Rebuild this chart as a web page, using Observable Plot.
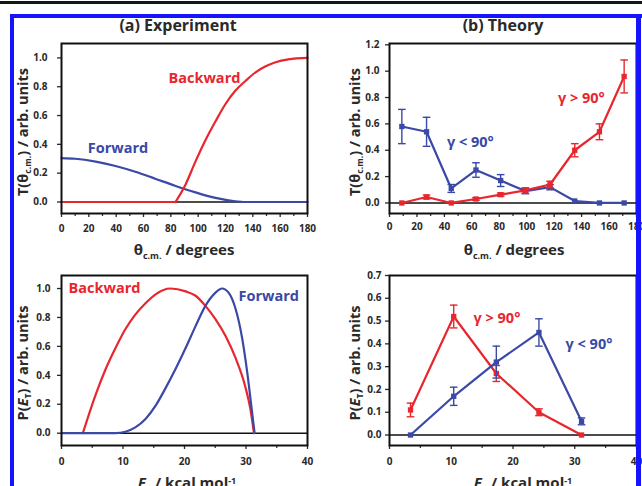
<!DOCTYPE html>
<html><head><meta charset="utf-8">
<script src="https://cdn.jsdelivr.net/npm/d3@7"></script>
<script src="https://cdn.jsdelivr.net/npm/@observablehq/plot@0.6"></script>
<style>
html,body{margin:0;padding:0;width:642px;height:486px;overflow:hidden;background:#fff;}
#root{position:relative;width:642px;height:486px;overflow:hidden;font-family:"Open Sans",sans-serif;font-weight:bold;color:#2a2a2a;}
.t{position:absolute;white-space:nowrap;font-weight:bold;line-height:1;transform:translate(-50%,-50%);}
.r{transform:translate(-50%,-50%) rotate(-90deg);}
.sb{font-size:0.6em;position:relative;top:0.4em;}
.sp{font-size:0.6em;position:relative;top:-0.5em;}
.deco{position:absolute;z-index:10;}
</style></head>
<body><div id="root"></div>
<script>
// ---------- data ----------
const red = "#e8262e", blue = "#3a48a6";

// (a) Experiment: T(theta)
const expForwardTheta = [0, 10, 25, 39.5, 54, 69, 83, 98, 112.7, 127, 134.6, 180];
const expForwardT     = [0.305, 0.30, 0.28, 0.25, 0.21, 0.16, 0.113, 0.067, 0.028, 0.005, 0, 0];
const expBackwardFlatTheta = [0, 83.4];
const expBackwardFlatT     = [0, 0];
const expBackwardTheta = [83.4, 90.7, 98, 105.4, 112.7, 120, 127, 134.6, 142, 149, 156.6, 166, 180];
const expBackwardT     = [0, 0.12, 0.28, 0.43, 0.56, 0.68, 0.77, 0.84, 0.90, 0.94, 0.97, 0.99, 1.0];

// (b) Theory: T(theta)
const thetaBins   = [9, 27, 45, 63, 81, 99, 117, 135, 153, 171];
const thLess90    = [0.58, 0.54, 0.11, 0.25, 0.17, 0.09, 0.12, 0.015, 0, 0];
const thLess90Err = [0.13, 0.11, 0.03, 0.055, 0.045, 0.02, 0.02, 0, 0, 0];
const thMore90    = [0, 0.045, 0, 0.03, 0.063, 0.095, 0.14, 0.40, 0.54, 0.96];
const thMore90Err = [0, 0.015, 0, 0.01, 0.012, 0.02, 0.025, 0.05, 0.06, 0.125];

// (a) Experiment: P(ET)
const expBackE = [3.47, 5.5, 7.15, 8.8, 10.4, 12.0, 13.7, 15.3, 17.7, 20.2, 21.8, 23.4, 25.0, 26.7, 28.3, 29.9, 30.7, 31.3];
const expBackP = [0, 0.26, 0.44, 0.59, 0.72, 0.82, 0.90, 0.96, 1.0, 0.98, 0.95, 0.88, 0.79, 0.67, 0.52, 0.32, 0.17, 0];
const expFwdE  = [0, 8.8, 10.4, 12.0, 13.7, 15.3, 16.9, 18.5, 20.2, 21.8, 23.4, 25.0, 26.1, 27.2, 28.3, 29.4, 30.2, 31.0, 31.4];
const expFwdP  = [0, 0, 0.01, 0.04, 0.10, 0.19, 0.31, 0.44, 0.59, 0.74, 0.88, 0.97, 1.0, 0.97, 0.86, 0.65, 0.42, 0.14, 0];

// (b) Theory: P(ET)
const eBins      = [3.4, 10.4, 17.3, 24.2, 31.1];
const pMore90    = [0.11, 0.52, 0.27, 0.10, 0];
const pMore90Err = [0.03, 0.05, 0.035, 0.015, 0];
const pLess90    = [0, 0.17, 0.32, 0.45, 0.06];
const pLess90Err = [0, 0.04, 0.07, 0.06, 0.015];

// tick values
const thetaMajor = [0, 20, 40, 60, 80, 100, 120, 140, 160, 180];
const thetaMinor = [10, 30, 50, 70, 90, 110, 130, 150, 170];
const eMajor = [0, 10, 20, 30, 40];
const eMinor = [5, 15, 25, 35];
const yTicksA = [0, 0.2, 0.4, 0.6, 0.8, 1.0];
const yTicksB = [0, 0.2, 0.4, 0.6, 0.8, 1.0, 1.2];
const yTicksD = [0, 0.1, 0.2, 0.3, 0.4, 0.5, 0.6, 0.7];

// annotation labels (data coordinates)
const labelsA = [{x: 104.6, y: 0.86, text: "Backward", c: red}, {x: 41.3, y: 0.373, text: "Forward", c: blue}];
const labelsB = [{x: 139.8, y: 0.795, text: "γ > 90°", c: red}, {x: 58.9, y: 0.46, text: "γ < 90°", c: blue}];
const labelsC = [{x: 7.0, y: 1.0, text: "Backward", c: red}, {x: 33.7, y: 0.947, text: "Forward", c: blue}];
const labelsD = [{x: 17.4, y: 0.51, text: "γ > 90°", c: red}, {x: 32.3, y: 0.40, text: "γ < 90°", c: blue}];

// ---------- helpers ----------
const zip = (xs, ys, extra = {}) => xs.map((x, i) => ({x, y: ys[i], ...extra}));
const zipErr = (xs, ys, es) => xs.map((x, i) => ({x, y: ys[i], e: es[i]}));
const cap = {draw(ctx, size) { const r = Math.sqrt(size / Math.PI); ctx.moveTo(-r, 0); ctx.lineTo(r, 0); }};
const f1 = d3.format(".1f");
const style = {fontFamily: "'Open Sans', sans-serif", fontWeight: "bold", fontSize: "10px", color: "#2a2a2a", background: "transparent", overflow: "visible"};
const root = document.getElementById("root");
function place(el, left, top) { el.style.position = "absolute"; el.style.left = left + "px"; el.style.top = top + "px"; root.appendChild(el); }

function axes(xMajor, xMinor, yTicks, xPad, yPad) {
  return [
    Plot.axisX({ticks: xMajor, tickSize: 4, tickPadding: xPad, tickFormat: "d", label: null, strokeWidth: 1.3}),
    Plot.axisX({ticks: xMinor, tickSize: 3, tickFormat: () => "", label: null, strokeWidth: 1.2}),
    Plot.axisY({ticks: yTicks, tickSize: 4, tickPadding: yPad, tickFormat: f1, label: null, strokeWidth: 1.3})
  ];
}
function annot(labels) {
  return Plot.text(labels, {x: "x", y: "y", text: "text", fill: "c", fontSize: 14.5, fontWeight: "bold", textAnchor: "middle", lineAnchor: "middle"});
}
function errMarks(data, color) {
  const d = data.filter(p => p.e > 0);
  return [
    Plot.ruleX(d, {x: "x", y1: p => p.y - p.e, y2: p => p.y + p.e, stroke: color, strokeWidth: 1.4}),
    Plot.dot(d, {x: "x", y: p => p.y + p.e, symbol: cap, r: 3.8, stroke: color, strokeWidth: 1.4, fill: "none"}),
    Plot.dot(d, {x: "x", y: p => p.y - p.e, symbol: cap, r: 3.8, stroke: color, strokeWidth: 1.4, fill: "none"})
  ];
}
function series(data, color) {
  return [
    Plot.line(data, {x: "x", y: "y", stroke: color, strokeWidth: 2.2}),
    ...errMarks(data, color),
    Plot.dot(data, {x: "x", y: "y", symbol: "square", r: 3, fill: color})
  ];
}

// ---------- panel (a) top ----------
const backA = [...zip(expBackwardFlatTheta, expBackwardFlatT, {s: "flat"}), ...zip(expBackwardTheta, expBackwardT, {s: "rise"})];
place(Plot.plot({
  width: 321, height: 243, marginLeft: 61, marginRight: 14, marginTop: 43, marginBottom: 30,
  style,
  x: {domain: [0, 180], label: null}, y: {domain: [-0.08, 1.1], label: null},
  marks: [
    Plot.ruleY([0], {stroke: "#111", strokeWidth: 1.5}),
    Plot.line(zip(expForwardTheta, expForwardT), {x: "x", y: "y", stroke: blue, strokeWidth: 2.2, curve: "monotone-x"}),
    Plot.line(backA, {x: "x", y: "y", z: "s", stroke: red, strokeWidth: 2.2, curve: "monotone-x"}),
    annot(labelsA),
    ...axes(thetaMajor, thetaMinor, yTicksA, 7, 10),
    Plot.frame({stroke: "#111", strokeWidth: 2})
  ]
}), 0, 0);

// ---------- panel (b) top ----------
place(Plot.plot({
  width: 321, height: 243, marginLeft: 68, marginRight: 6, marginTop: 43, marginBottom: 30,
  style,
  x: {domain: [0, 180], label: null}, y: {domain: [-0.08, 1.21], label: null},
  marks: [
    Plot.ruleY([0], {stroke: "#111", strokeWidth: 1.5}),
    ...series(zipErr(thetaBins, thLess90, thLess90Err), blue),
    ...series(zipErr(thetaBins, thMore90, thMore90Err), red),
    annot(labelsB),
    ...axes(thetaMajor, thetaMinor, yTicksB, 5, 6),
    Plot.frame({stroke: "#111", strokeWidth: 2})
  ]
}), 321, 0);

// ---------- panel (a) bottom ----------
place(Plot.plot({
  width: 321, height: 243, marginLeft: 61, marginRight: 14, marginTop: 32, marginBottom: 41,
  style,
  x: {domain: [0, 40], label: null}, y: {domain: [-0.085, 1.09], label: null},
  marks: [
    Plot.ruleY([0], {stroke: "#111", strokeWidth: 1.5}),
    Plot.line(zip(expBackE, expBackP), {x: "x", y: "y", stroke: red, strokeWidth: 2.2, curve: "monotone-x"}),
    Plot.line(zip(expFwdE, expFwdP), {x: "x", y: "y", stroke: blue, strokeWidth: 2.2, curve: "monotone-x"}),
    annot(labelsC),
    ...axes(eMajor, eMinor, yTicksA, 8, 7),
    Plot.frame({stroke: "#111", strokeWidth: 2})
  ]
}), 0, 243);

// ---------- panel (b) bottom ----------
place(Plot.plot({
  width: 321, height: 243, marginLeft: 68, marginRight: 6, marginTop: 32, marginBottom: 41,
  style,
  x: {domain: [0, 40], label: null}, y: {domain: [-0.046, 0.7], label: null},
  marks: [
    Plot.ruleY([0], {stroke: "#111", strokeWidth: 1.5}),
    ...series(zipErr(eBins, pMore90, pMore90Err), red),
    ...series(zipErr(eBins, pLess90, pLess90Err), blue),
    annot(labelsD),
    ...axes(eMajor, eMinor, yTicksD, 8, 4),
    Plot.frame({stroke: "#111", strokeWidth: 2})
  ]
}), 321, 243);

// ---------- text ----------
function txt(html, cx, cy, size, cls = "") {
  const d = document.createElement("div");
  d.className = "t " + cls;
  d.innerHTML = html;
  d.style.left = cx + "px"; d.style.top = cy + "px"; d.style.fontSize = size + "px";
  root.appendChild(d);
}
txt("(a) Experiment", 178, 25, 16);
txt("(b) Theory", 503, 25, 16);
const thetaLab = "θ<span class='sb'>c.m.</span> / degrees";
const eLab = "<i>E</i><span class='sb'>T</span> / kcal mol<span class='sp'>-1</span>";
txt(thetaLab, 184, 249, 15);
txt(thetaLab, 514, 249, 15);
txt(eLab, 187, 482, 15);
txt(eLab, 523, 482, 15);
const tLab = "T(θ<span class='sb'>c.m.</span>) / arb. units";
const pLab = "P(<i>E</i><span class='sb'>T</span>) / arb. units";
txt(tLab, 23, 132, 14.5, "r");
txt(tLab, 355, 132, 14.5, "r");
txt(pLab, 23, 363, 14.5, "r");
txt(pLab, 355, 363, 14.5, "r");

// ---------- decorative frame of the screenshot ----------
function deco(l, t, w, h, c) {
  const d = document.createElement("div"); d.className = "deco";
  Object.assign(d.style, {left: l + "px", top: t + "px", width: w + "px", height: h + "px", background: c});
  root.appendChild(d);
}
deco(0, 1, 642, 2.5, "#151515");
deco(10, 14, 632, 3.5, "#1414ff");
deco(10, 14, 4, 472, "#1414ff");
deco(636, 14, 5, 472, "#1414ff");
</script></body></html>
